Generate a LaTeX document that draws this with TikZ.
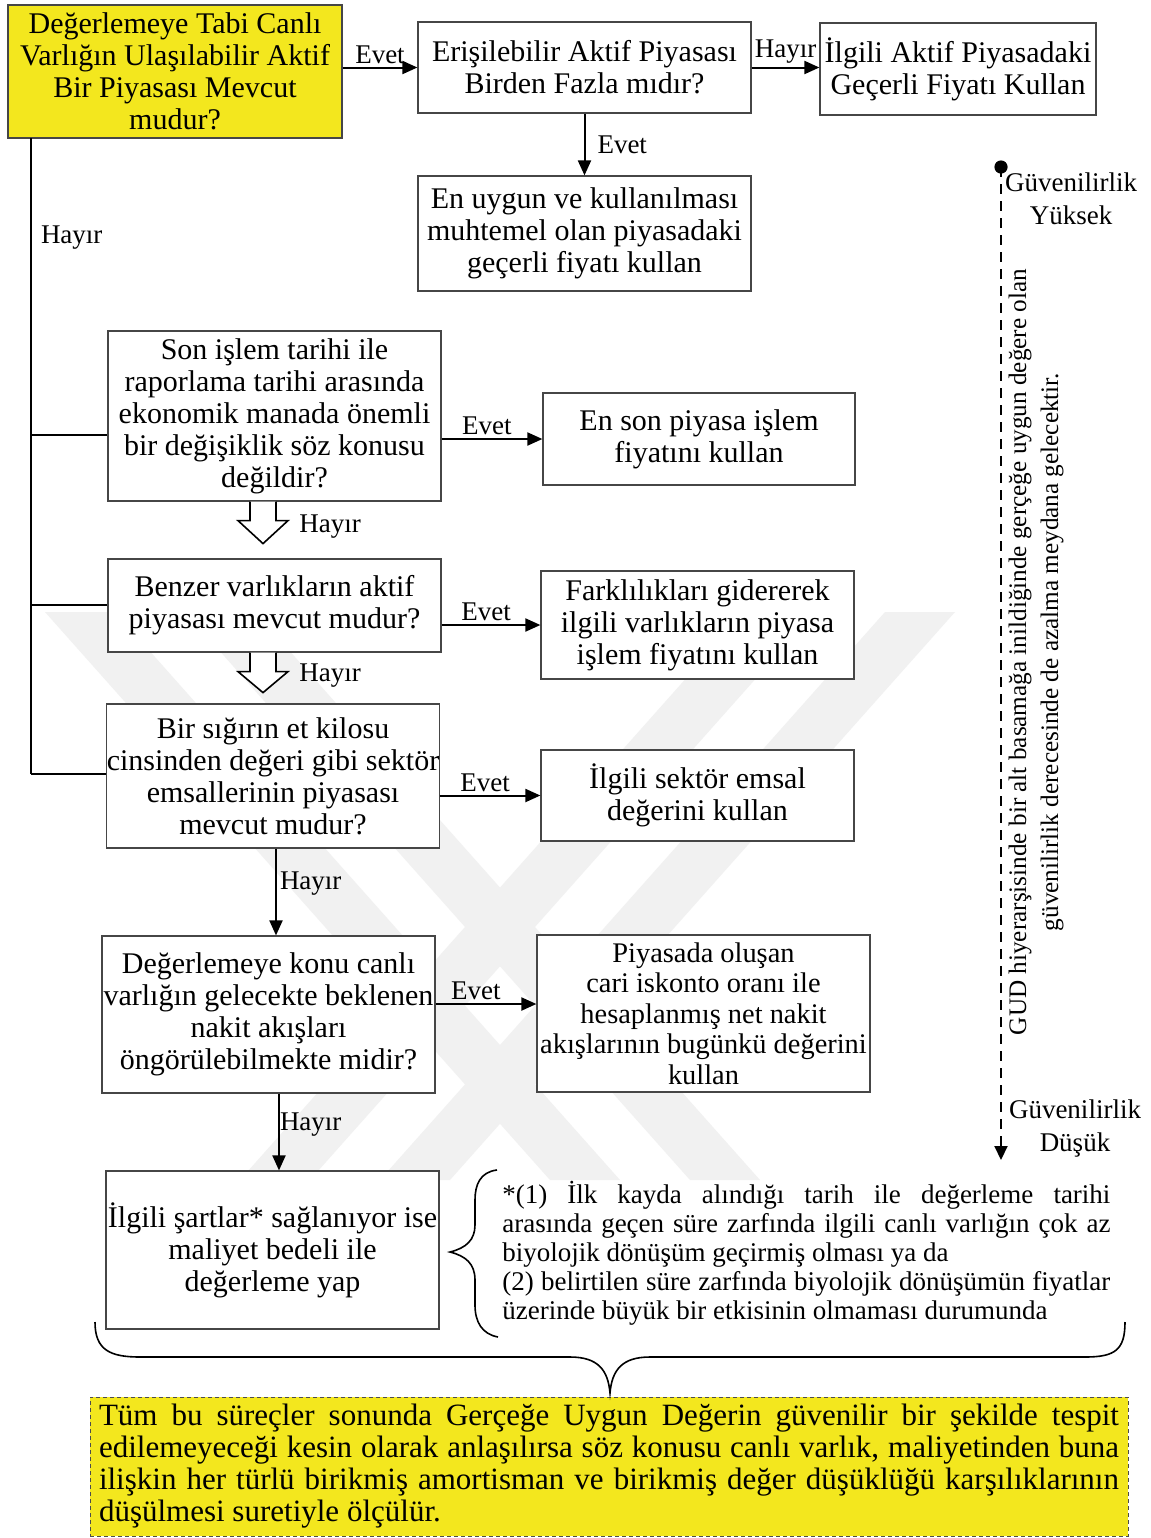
\documentclass[tikz,border=0pt]{standalone}
\usepackage{fontspec}
\setmainfont{Liberation Serif}
\usetikzlibrary{arrows.meta,calc}
\definecolor{ylw}{RGB}{243,231,30}
\definecolor{bdr}{RGB}{70,70,70}
\definecolor{wm}{RGB}{241,241,241}
\newcommand\jl[2]{\makebox[#1][s]{#2}}
\begin{document}
\begin{tikzpicture}[x=0.5pt,y=-0.5pt,
 box/.style={draw=bdr,line width=0.6pt,fill=white,inner sep=0pt,align=center,font=\fontsize{15}{16}\selectfont},
 arr/.style={line width=1pt,-{Triangle[length=7.5pt,width=6.5pt]}},
 ln/.style={line width=1pt},
 lbl/.style={font=\fontsize{13.5}{14}\selectfont,inner sep=1.5pt},
 hollow/.style={line width=0.8pt,fill=white,line join=miter},
 wmark/.style={fill=wm,draw=none},
]
\useasboundingbox (0,0) rectangle (1151,1538);
\fill[white] (0,0) rectangle (1151,1538);

% faint watermark
\fill[wmark] (45,612) -- (115,612) -- (620,1180) -- (550,1180) -- cycle;
\fill[wmark] (185,612) -- (255,612) -- (760,1180) -- (690,1180) -- cycle;
\fill[wmark] (955,612) -- (885,612) -- (380,1180) -- (450,1180) -- cycle;
\fill[wmark] (815,612) -- (745,612) -- (240,1180) -- (310,1180) -- cycle;

% boxes
\node[box,fill=ylw,minimum width=167pt,minimum height=66.5pt] (A) at (175,71.5) {Değerlemeye Tabi Canlı\\Varlığın Ulaşılabilir Aktif\\Bir Piyasası Mevcut\\mudur?};
\node[box,minimum width=166.5pt,minimum height=45.5pt] (B) at (584.5,67.5) {Erişilebilir Aktif Piyasası\\Birden Fazla mıdır?};
\node[box,minimum width=138pt,minimum height=46pt] (C) at (958,69) {İlgili Aktif Piyasadaki\\Geçerli Fiyatı Kullan};
\node[box,minimum width=166.5pt,minimum height=57.5pt] (D) at (584.5,233.5) {En uygun ve kullanılması\\muhtemel olan piyasadaki\\geçerli fiyatı kullan};
\node[box,minimum width=166.5pt,minimum height=85pt] (E) at (274.5,416) {Son işlem tarihi ile\\raporlama tarihi arasında\\ekonomik manada önemli\\bir değişiklik söz konusu\\değildir?};
\node[box,minimum width=156pt,minimum height=46pt] (F) at (699,439) {En son piyasa işlem\\fiyatını kullan};
\node[box,minimum width=166.5pt,minimum height=46.5pt] (G) at (274.5,605.5) {Benzer varlıkların aktif\\piyasası mevcut mudur?};
\node[box,minimum width=156.5pt,minimum height=54pt] (H) at (697.5,625) {Farklılıkları gidererek\\ilgili varlıkların piyasa\\işlem fiyatını kullan};
\node[box,minimum width=166pt,minimum height=72pt] (I) at (273,776) {Bir sığırın et kilosu\\cinsinden değeri gibi sektör\\emsallerinin piyasası\\mevcut mudur?};
\node[box,minimum width=156.5pt,minimum height=45.5pt] (J) at (697.5,795.5) {İlgili sektör emsal\\değerini kullan};
\node[box,minimum width=166.5pt,minimum height=78.5pt] (K) at (268.5,1014.5) {Değerlemeye konu canlı\\varlığın gelecekte beklenen\\nakit akışları\\öngörülebilmekte midir?};
\node[box,font=\fontsize{14.2}{15.2}\selectfont,minimum width=166.5pt,minimum height=78.5pt] (L) at (703.5,1013.5) {Piyasada oluşan\\cari iskonto oranı ile\\hesaplanmış net nakit\\akışlarının bugünkü değerini\\kullan};
\node[box,minimum width=166.5pt,minimum height=79pt] (M) at (272.5,1250) {İlgili şartlar* sağlanıyor ise\\maliyet bedeli ile\\değerleme yap};

% footnote text
\node[inner sep=0pt,align=left,anchor=west,font=\fontsize{13.5}{14.5}\selectfont] (N) at (502,1253) {\jl{304pt}{*(1) İlk kayda alındığı tarih ile değerleme tarihi}\\\jl{304pt}{arasında geçen süre zarfında ilgili canlı varlığın çok az}\\biyolojik dönüşüm geçirmiş olması ya da\\\jl{304pt}{(2) belirtilen süre zarfında biyolojik dönüşümün fiyatlar}\\üzerinde büyük bir etkisinin olmaması durumunda};

% bottom box
\node[draw=black!70,dash pattern=on 2pt off 1.5pt,line width=0.5pt,fill=ylw,minimum width=519pt,minimum height=69.5pt,inner sep=0pt,align=left,font=\fontsize{15.5}{16}\selectfont] (Z) at (609,1466.5) {\jl{510pt}{Tüm bu süreçler sonunda Gerçeğe Uygun Değerin güvenilir bir şekilde tespit}\\\jl{510pt}{edilemeyeceği kesin olarak anlaşılırsa söz konusu canlı varlık, maliyetinden buna}\\\jl{510pt}{ilişkin her türlü birikmiş amortisman ve birikmiş değer düşüklüğü karşılıklarının}\\düşülmesi suretiyle ölçülür.};

% connectors
\draw[arr] (A.east |- B.west) -- node[lbl,above]{Evet} (B.west);
\draw[arr] (B.east) -- node[lbl,above]{Hayır} (B.east -| C.west);
\draw[arr] (B.south) -- node[lbl,right,xshift=4.5pt]{Evet} (D.north);

\coordinate (t0) at (31,138);
\coordinate (tE) at (31,435);
\coordinate (tG) at (31,605);
\coordinate (tI) at (31,774);
\draw[ln] (t0) -- node[lbl,right,pos=0.156,xshift=3pt]{Hayır} (tI);
\draw[ln] (tE) -- (tE -| E.west);
\draw[ln] (tG) -- (tG -| G.west);
\draw[ln] (tI) -- (tI -| I.west);

\draw[arr] (E.east |- F.west) -- node[lbl,above,pos=0.45]{Evet} (F.west);
\draw[arr] (G.east |- H.west) -- node[lbl,above,pos=0.45]{Evet} (H.west);
\draw[arr] (I.east |- J.west) -- node[lbl,above,pos=0.45]{Evet} (J.west);
\draw[arr] ([xshift=1.5pt]I.south) -- node[lbl,right,pos=0.4]{Hayır} ([xshift=1.5pt]I.south |- K.north);
\draw[arr] ([yshift=5.25pt]K.east) -- node[lbl,above,pos=0.4]{Evet} ([yshift=5.25pt]K.east -| L.west);
\draw[arr] ([xshift=5.25pt]K.south) -- node[lbl,right,pos=0.4,inner sep=0pt]{Hayır} ([xshift=5.25pt]K.south |- M.north);

% hollow arrows
\coordinate (h1) at ($(E.south)+(-11.5,0)$);
\draw[hollow] ($(h1)+(-13,0)$) -- ++(0,19) -- ++(-12,0) -- ++(25,23) -- ++(25,-23) -- ++(-12,0) -- ++(0,-19);
\node[lbl,anchor=west] (hl1) at ($(h1)+(33,25)$) {Hayır};
\coordinate (h2) at ($(G.south)+(-11.5,0)$);
\draw[hollow] ($(h2)+(-13,0)$) -- ++(0,19) -- ++(-12,0) -- ++(25,21) -- ++(25,-21) -- ++(-12,0) -- ++(0,-19);
\node[lbl,anchor=west] (hl2) at ($(h2)+(33,23)$) {Hayır};

% reliability axis
\coordinate (gtop) at (1001,167);
\coordinate (gbot) at (1001,1160);
\draw[line width=1pt,dash pattern=on 5pt off 3.5pt,-{Triangle[length=7pt,width=6.5pt]}] (gtop) -- (gbot);
\fill (gtop) circle[radius=3.3pt];
\node[align=center,inner sep=0pt,font=\fontsize{13.5}{16.5}\selectfont] (gy) at (1071,199) {Güvenilirlik\\Yüksek};
\node[align=center,inner sep=0pt,font=\fontsize{13.5}{16.5}\selectfont] (gd) at (1075,1128) {Güvenilirlik\\Düşük};
\node[rotate=90,align=center,inner sep=0pt,font=\fontsize{12.6}{16}\selectfont] (gt) at (1036,652) {GUD hiyerarşisinde bir alt basamağa inildiğinde gerçeğe uygun değere olan\\güvenilirlik derecesinde de azalma meydana gelecektir.};

% braces
\draw[line width=0.8pt] (497,1170) .. controls (480,1172) and (475,1185) .. (475,1200) -- (475,1225) .. controls (475,1240) and (466,1248) .. (450,1252) .. controls (466,1256) and (475,1264) .. (475,1280) -- (475,1305) .. controls (475,1322) and (482,1334) .. (498,1337);
\draw[line width=0.8pt] (95,1322) .. controls (95,1350) and (110,1357) .. (140,1357) -- (570,1357) .. controls (598,1357) and (608,1370) .. (610,1393) .. controls (612,1370) and (622,1357) .. (650,1357) -- (1085,1357) .. controls (1115,1357) and (1125,1350) .. (1125,1322);
\end{tikzpicture}
\end{document}
